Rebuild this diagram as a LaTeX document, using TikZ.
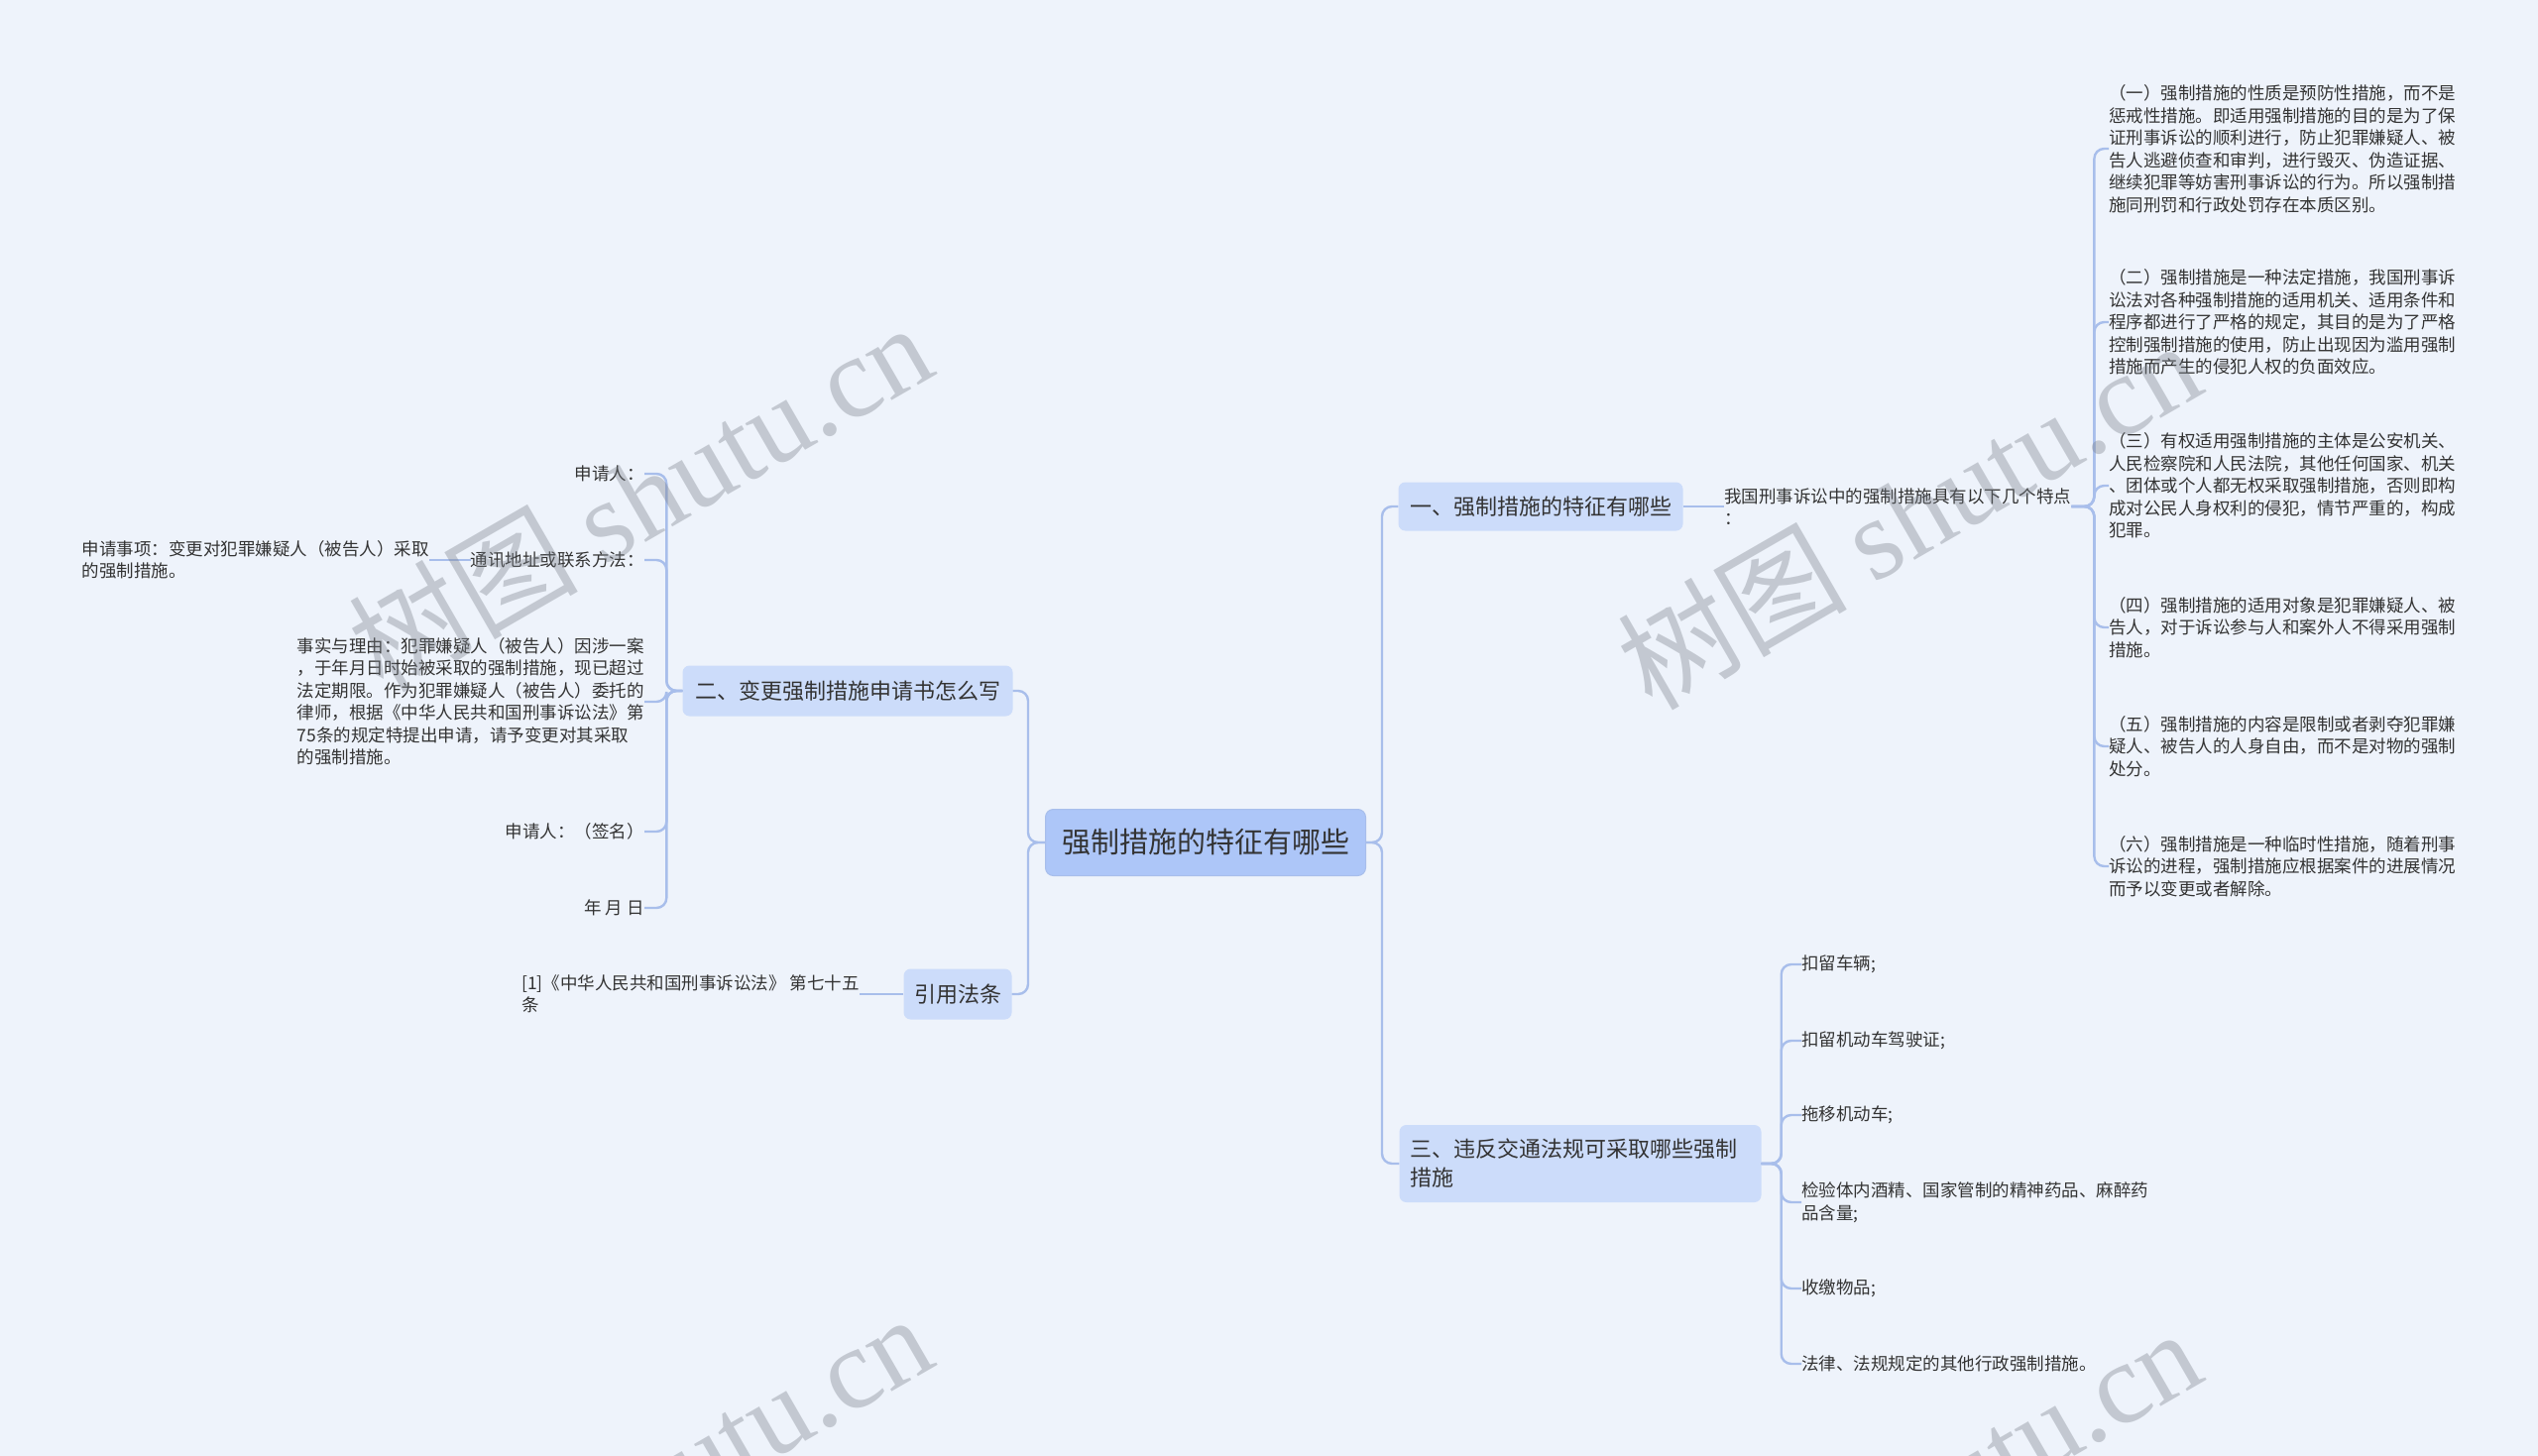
\documentclass[tikz,border=0pt]{standalone}
\usepackage{fontspec}
\setmainfont{Noto Sans CJK SC}
\newfontfamily\wmserif{Liberation Serif}
\definecolor{bgc}{RGB}{238,243,251}
\definecolor{txt}{RGB}{51,51,51}
\definecolor{linec}{RGB}{168,190,235}
\definecolor{lonefill}{RGB}{204,220,250}
\definecolor{rootfill}{RGB}{173,198,248}
\definecolor{wmc}{RGB}{120,126,136}
\begin{document}
\begin{tikzpicture}[x=1pt,y=-1pt,
  every node/.style={text=txt, font=\fontsize{17.5}{22.5}\selectfont},
  leaf/.style={inner sep=0pt, align=left},
  topic/.style={fill=lonefill, rounded corners=7pt, inner xsep=10pt, inner ysep=0pt, font=\fontsize{22}{29}\selectfont},
  rootbox/.style={fill=rootfill, draw=linec, line width=1pt, rounded corners=8pt, inner sep=0pt, font=\fontsize{29}{34}\selectfont},
  conn/.style={draw=linec, line width=2.4pt, rounded corners=10pt},
  wm/.style={text=wmc, text opacity=0.36, font=\fontsize{116}{116}\selectfont, inner sep=0pt},
]
\fill[bgc] (0,0) rectangle (2560,1469);
\useasboundingbox (0,0) rectangle (2560,1469);

% main nodes
\node[rootbox, minimum width=323pt, minimum height=67pt] (root) at (1216,850) {强制措施的特征有哪些};
\node[topic, minimum width=287pt, minimum height=49pt] (t1) at (1554,511) {一、强制措施的特征有哪些};
\node[topic, minimum width=333pt, minimum height=51pt] (t2) at (855,697) {二、变更强制措施申请书怎么写};
\node[topic, minimum width=109pt, minimum height=51pt] (t4) at (966,1003) {引用法条};
\node[topic, text width=343pt, inner xsep=11pt, minimum height=78pt, align=left] (t3) at (1594,1174) {三、违反交通法规可采取哪些强制\\措施};

% branch 1
\node[leaf, anchor=west] (feat) at (1739,511) {我国刑事诉讼中的强制措施具有以下几个特点\\：};
\node[leaf, anchor=west] (c1) at (2127,150) {（一）强制措施的性质是预防性措施，而不是\\惩戒性措施。即适用强制措施的目的是为了保\\证刑事诉讼的顺利进行，防止犯罪嫌疑人、被\\告人逃避侦查和审判，进行毁灭、伪造证据、\\继续犯罪等妨害刑事诉讼的行为。所以强制措\\施同刑罚和行政处罚存在本质区别。};
\node[leaf, anchor=west] (c2) at (2127,325) {（二）强制措施是一种法定措施，我国刑事诉\\讼法对各种强制措施的适用机关、适用条件和\\程序都进行了严格的规定，其目的是为了严格\\控制强制措施的使用，防止出现因为滥用强制\\措施而产生的侵犯人权的负面效应。};
\node[leaf, anchor=west] (c3) at (2127,490) {（三）有权适用强制措施的主体是公安机关、\\人民检察院和人民法院，其他任何国家、机关\\、团体或个人都无权采取强制措施，否则即构\\成对公民人身权利的侵犯，情节严重的，构成\\犯罪。};
\node[leaf, anchor=west] (c4) at (2127,633) {（四）强制措施的适用对象是犯罪嫌疑人、被\\告人，对于诉讼参与人和案外人不得采用强制\\措施。};
\node[leaf, anchor=west] (c5) at (2127,753) {（五）强制措施的内容是限制或者剥夺犯罪嫌\\疑人、被告人的人身自由，而不是对物的强制\\处分。};
\node[leaf, anchor=west] (c6) at (2127,874) {（六）强制措施是一种临时性措施，随着刑事\\诉讼的进程，强制措施应根据案件的进展情况\\而予以变更或者解除。};

% branch 3
\node[leaf, anchor=west] (d1) at (1817,973) {扣留车辆;};
\node[leaf, anchor=west] (d2) at (1817,1050) {扣留机动车驾驶证;};
\node[leaf, anchor=west] (d3) at (1817,1125) {拖移机动车;};
\node[leaf, anchor=west] (d4) at (1817,1213) {检验体内酒精、国家管制的精神药品、麻醉药\\品含量;};
\node[leaf, anchor=west] (d5) at (1817,1300) {收缴物品;};
\node[leaf, anchor=west] (d6) at (1817,1376) {法律、法规规定的其他行政强制措施。};

% branch 2
\node[leaf, anchor=east] (e1) at (650,478) {申请人：};
\node[leaf, anchor=east] (e2) at (650,565) {通讯地址或联系方法：};
\node[leaf, anchor=east] (e3) at (650,708) {事实与理由：犯罪嫌疑人（被告人）因涉一案\\，于年月日时始被采取的强制措施，现已超过\\法定期限。作为犯罪嫌疑人（被告人）委托的\\律师，根据《中华人民共和国刑事诉讼法》第\\75条的规定特提出申请，请予变更对其采取\\的强制措施。};
\node[leaf, anchor=east] (e4) at (650,839) {申请人：（签名）};
\node[leaf, anchor=east] (e5) at (650,916) {年 月 日};
\node[leaf, anchor=east] (f1) at (433,565) {申请事项：变更对犯罪嫌疑人（被告人）采取\\的强制措施。};

% branch 4
\node[leaf, anchor=west] (ref) at (526,1003) {[1]《中华人民共和国刑事诉讼法》 第七十五\\条};

% junction coordinates
\coordinate (rj) at (1394,850);
\coordinate (lj) at (1037,850);

% connectors
\draw[conn] (root.east) -- (rj) |- (t1.west);
\draw[conn] (root.east) -- (rj) |- (t3.west);
\draw[conn] (root.west) -- (lj) |- (t2.east);
\draw[conn] (root.west) -- (lj) |- (t4.east);

\draw[conn] (t1.east) -- (feat.west);
\foreach \c in {c1,c2,c3,c4,c5,c6}
  \draw[conn] (feat.east) -- ++(23,0) |- (\c.west);

\foreach \d in {d1,d2,d3,d4,d5,d6}
  \draw[conn] (t3.east) -- ++(20,0) |- (\d.west);

\foreach \e in {e1,e2,e3,e4,e5}
  \draw[conn] (t2.west) -- ++(-16,0) |- (\e.east);

\draw[conn] (e2.west) -- (f1.east);
\draw[conn] (t4.west) -- (ref.east);

% watermarks
\begin{scope}
\clip (0,0) rectangle (2560,1469);
\node[wm, rotate=30] (wa) at (645,500) {树图 {\wmserif shutu.cn}};
\node[wm, rotate=30] (wb) at (1925,518) {树图 {\wmserif shutu.cn}};
\node[wm, rotate=30] (wc) at (645,1500) {树图 {\wmserif shutu.cn}};
\node[wm, rotate=30] (wd) at (1925,1515) {树图 {\wmserif shutu.cn}};
\end{scope}
\end{tikzpicture}
\end{document}
